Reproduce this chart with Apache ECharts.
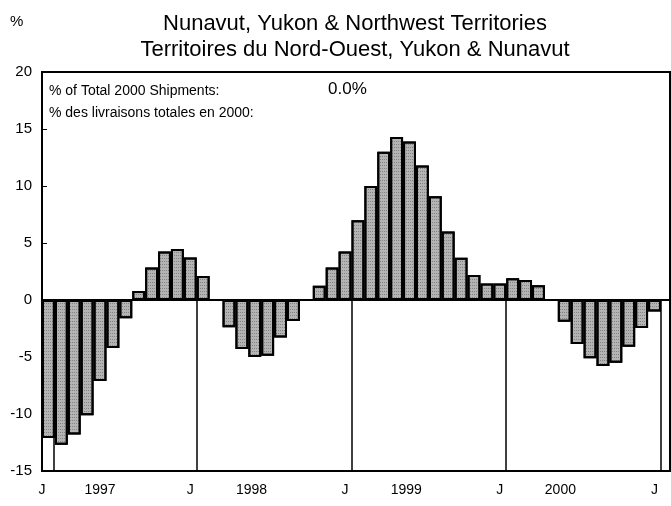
<!DOCTYPE html>
<html>
<head>
<meta charset="utf-8">
<script src="https://cdn.jsdelivr.net/npm/echarts@6/dist/echarts.min.js"></script>
<style>
  html, body { margin: 0; padding: 0; background: #fff; }
  #chart { width: 671px; height: 506px; }
</style>
</head>
<body>
<div id="chart"></div>
<script>
// monthly % change, Jan 1997 .. Jan 2001
const vals1997 = [-12.1, -12.7, -11.8, -10.1, -7.1, -4.2, -1.6, 0.8, 2.85, 4.26, 4.47, 3.73];
const vals1998 = [2.1, 0, -2.4, -4.3, -5.0, -4.9, -3.3, -1.85, 0, 1.24, 2.85, 4.26];
const vals1999 = [7.0, 10.0, 13.0, 14.3, 13.9, 11.8, 9.1, 6.0, 3.7, 2.2, 1.45, 1.45];
const vals2000 = [1.9, 1.75, 1.3, 0, -1.9, -3.85, -5.1, -5.8, -5.5, -4.1, -2.45, -1.0];
const vals2001 = [0];

// x axis labels (month units from Jan 1997)
const xTickPos = [0, 4.5, 11.5, 16.25, 23.5, 28.25, 35.5, 40.2, 47.5];
const xTickText = ["J", "1997", "J", "1998", "J", "1999", "J", "2000", "J"];

// year separator lines (month units)
const yearLines = [0.9, 12, 24, 36, 48];

const allVals = [...vals1997, ...vals1998, ...vals1999, ...vals2000, ...vals2001];
const barData = allVals.map((v, i) => [i + 0.5, v]);

const font = "'Liberation Sans', Arial, sans-serif";

const chart = echarts.init(document.getElementById("chart"));

const markData = [
  { yAxis: 0, lineStyle: { width: 2, color: "#000" } },
  ...yearLines.map((x) => [
    { coord: [x, -15] },
    { coord: [x, 0] },
  ]),
];

chart.setOption({
  animation: false,
  textStyle: { fontFamily: font },
  title: {
    text: "Nunavut, Yukon & Northwest Territories\nTerritoires du Nord-Ouest, Yukon & Nunavut",
    left: 350,
    top: 6,
    textAlign: "center",
    textStyle: {
      fontFamily: font,
      fontSize: 22,
      fontWeight: "normal",
      color: "#000",
      lineHeight: 26,
    },
  },
  graphic: [
    {
      type: "text",
      left: 10,
      top: 14,
      style: { text: "%", font: "15px " + font, fill: "#000" },
    },
    {
      type: "text",
      left: 49,
      top: 84,
      style: { text: "% of Total 2000 Shipments:", font: "14px " + font, fill: "#000" },
    },
    {
      type: "text",
      left: 328,
      top: 81,
      style: { text: "0.0%", font: "17px " + font, fill: "#000" },
    },
    {
      type: "text",
      left: 49,
      top: 106,
      style: { text: "% des livraisons totales en 2000:", font: "14px " + font, fill: "#000" },
    },
  ],
  grid: {
    left: 42,
    right: 1,
    top: 72,
    bottom: 35,
    show: true,
    borderColor: "#000",
    borderWidth: 2,
  },
  xAxis: {
    type: "value",
    min: 0,
    max: 48.7,
    splitLine: { show: false },
    axisLine: { show: true, onZero: false, lineStyle: { color: "#000", width: 2 } },
    axisTick: { show: false },
    axisLabel: {
      customValues: xTickPos,
      formatter: (v) => {
        const i = xTickPos.indexOf(v);
        return i >= 0 ? xTickText[i] : "";
      },
      color: "#000",
      fontSize: 14,
      margin: 12,
      fontFamily: font,
    },
  },
  yAxis: {
    type: "value",
    min: -15,
    max: 20,
    interval: 5,
    splitLine: { show: false },
    axisLine: { show: true, onZero: false, lineStyle: { color: "#000", width: 2 } },
    axisTick: { show: true, inside: true, length: 5, lineStyle: { color: "#000" } },
    axisLabel: { color: "#000", fontSize: 15, margin: 10, fontFamily: font },
  },
  series: [
    {
      type: "bar",
      data: barData,
      barWidth: 12.9,
      itemStyle: {
        color: "#b4b4b4",
        borderColor: "#000",
        borderWidth: 2,
        decal: {
          symbol: "rect",
          symbolSize: 1,
          color: "rgba(40,40,40,0.35)",
          dashArrayX: [1, 1],
          dashArrayY: [1, 2],
          rotation: 0,
        },
      },
      markLine: {
        silent: true,
        symbol: "none",
        label: { show: false },
        lineStyle: { color: "#000", width: 1.5, type: "solid" },
        data: markData,
      },
    },
  ],
});
</script>
</body>
</html>
